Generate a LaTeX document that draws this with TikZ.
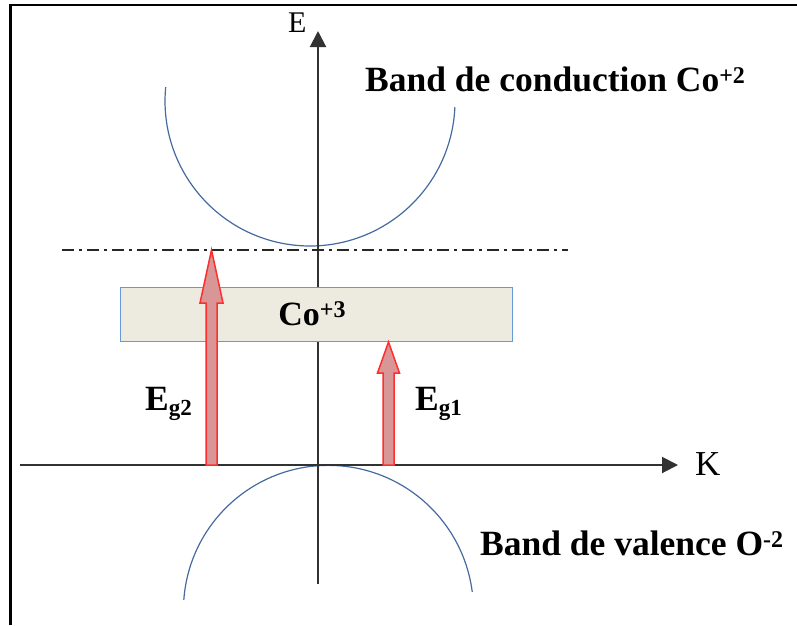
\documentclass[tikz,border=0pt]{standalone}
\usepackage{fontspec}
\setmainfont{Liberation Serif}
\usetikzlibrary{arrows.meta,calc}
\definecolor{bandblue}{RGB}{68,106,160}
\definecolor{boxfill}{RGB}{237,235,224}
\definecolor{boxedge}{RGB}{100,155,215}
\definecolor{egfill}{RGB}{217,150,150}
\definecolor{egedge}{RGB}{255,45,45}
\definecolor{axisgray}{RGB}{50,50,50}
\newcommand{\SupTxt}[1]{\raisebox{8pt}{\fontsize{24}{24}\selectfont #1}}
\newcommand{\SubTxt}[1]{\raisebox{-5pt}{\fontsize{23}{23}\selectfont #1}}
\begin{document}
\begin{tikzpicture}[x=1pt,y=-1pt,
  frame/.style={line width=2.5pt,black},
  band/.style={bandblue,line width=1.2pt},
  axisline/.style={axisgray,line width=2pt,-{Triangle[length=16pt,width=16pt]}},
  levelline/.style={black!85,line width=2.2pt,dash pattern=on 12pt off 5pt on 3pt off 5pt},
  levelbox/.style={draw=boxedge,fill=boxfill,line width=1pt,minimum width=392pt,minimum height=54pt,inner sep=0pt},
  egarrow/.style={draw=egedge,fill=egfill,line width=1.5pt,line join=miter},
  bigtext/.style={font=\fontsize{35.5}{40}\selectfont\bfseries,inner sep=0pt},
  axlabel/.style={inner sep=0pt}]
\useasboundingbox (0,0) rectangle (797,625);
% frame
\draw[frame] (797,5) -- (10.5,5) -- (10.5,625);
% bands
\draw[band] (165.7,87.1) arc[start angle=185.5, end angle=2.4, radius=145];
\draw[band] (183.8,600) arc[start angle=184.1, end angle=352.7, radius=145];
% axes
\coordinate (kstart) at (20,465);
\coordinate (kend) at (678,465);
\coordinate (ebottom) at (318,584);
\coordinate (etop) at (318,31);
\draw[axisline] (kstart) -- (kend);
\draw[axisline] (ebottom) -- (etop);
\node[axlabel, anchor=base west, font=\fontsize{30}{34}\selectfont] (elabel) at (288,32) {E};
\node[axlabel, anchor=base west, font=\fontsize{35}{40}\selectfont] (klabel) at (695,475) {K};
% level line
\coordinate (lvlL) at (62,250);
\coordinate (lvlR) at (568,250);
\draw[levelline] (lvlL) -- (lvlR);
% Co+3 box
\node[levelbox, font=\fontsize{34}{40}\selectfont\bfseries] (co3) at (316,314) {Co\SupTxt{+3}\hspace*{8pt}};
% Eg arrows
\coordinate (eg2b) at (211.5,465);
\coordinate (eg2t) at (211.5,250);
\coordinate (eg1b) at (388.5,465);
\coordinate (eg1t) at (388.5,342);
\draw[egarrow] ($(eg2b)+(-5.5,0)$) -- ($(eg2t)+(-5.5,53)$) -- ($(eg2t)+(-11.5,53)$) -- (eg2t)
  -- ($(eg2t)+(11.5,53)$) -- ($(eg2t)+(5.5,53)$) -- ($(eg2b)+(5.5,0)$) -- cycle;
\draw[egarrow] ($(eg1b)+(-5.5,0)$) -- ($(eg1t)+(-5.5,31)$) -- ($(eg1t)+(-11,31)$) -- (eg1t)
  -- ($(eg1t)+(11,31)$) -- ($(eg1t)+(5.5,31)$) -- ($(eg1b)+(5.5,0)$) -- cycle;
% labels
\node[bigtext, anchor=base west] (eg2) at (145,410) {E\SubTxt{g2}};
\node[bigtext, anchor=base west] (eg1) at (415,410) {E\SubTxt{g1}};
\node[bigtext, anchor=base west] (cband) at (365,91) {Band de conduction Co\SupTxt{+2}};
\node[bigtext, anchor=base west] (vband) at (480,555) {Band de valence O\SupTxt{-2}};
\end{tikzpicture}
\end{document}
